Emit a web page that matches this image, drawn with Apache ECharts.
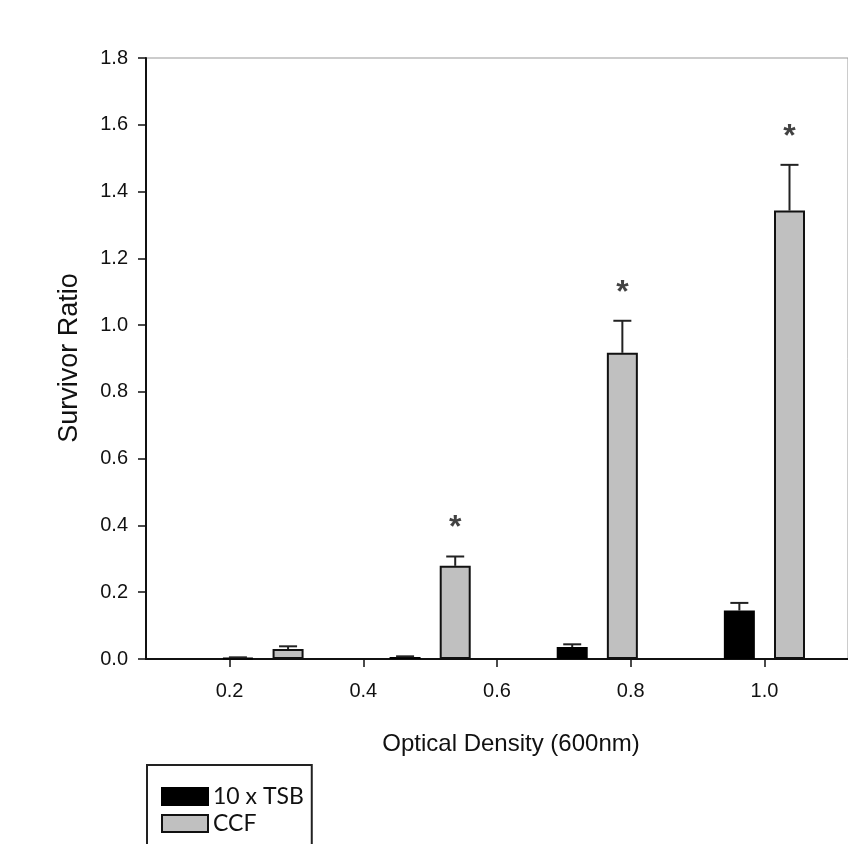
<!DOCTYPE html>
<html>
<head>
<meta charset="utf-8">
<script src="https://cdn.jsdelivr.net/npm/echarts@6/dist/echarts.min.js"></script>
<style>
html,body{margin:0;padding:0;background:#fff;}
#chart{width:848px;height:844px;}
</style>
</head>
<body>
<div id="chart"></div>
<script>
// ---- data ----
const odTicks = [0.2, 0.4, 0.6, 0.8, 1.0];
const yTicksMax = 1.8;
const seriesNames = ['10 x TSB', 'CCF'];
const tsbOD = [0.2125, 0.4625, 0.7125, 0.9625];
const tsbMean = [0.003, 0.006, 0.036, 0.145];
const tsbErr = [0.002, 0.002, 0.008, 0.023];
const ccfOD = [0.2875, 0.5375, 0.7875, 1.0375];
const ccfMean = [0.030, 0.279, 0.917, 1.343];
const ccfErr = [0.008, 0.028, 0.096, 0.137];
const ccfSignificant = [false, true, true, true];

const FONT = 'Liberation Sans, Arial, sans-serif';
const chart = echarts.init(document.getElementById('chart'), null, {renderer: 'canvas'});

const tsbData = tsbOD.map((x, i) => [x, tsbMean[i]]);
const ccfData = ccfOD.map((x, i) => [x, ccfMean[i]]);
const errData = tsbOD.map((x, i) => [x, tsbMean[i], tsbMean[i] + tsbErr[i]])
  .concat(ccfOD.map((x, i) => [x, ccfMean[i], ccfMean[i] + ccfErr[i]]));
const starData = ccfOD.map((x, i) => [x, ccfMean[i] + ccfErr[i], ccfSignificant[i]])
  .filter(d => d[2]).map(d => [d[0], d[1]]);

const option = {
  animation: false,
  backgroundColor: '#fff',
  grid: {left: 146, top: 58, width: 704, height: 601, show: true, borderColor: '#999', borderWidth: 1, containLabel: false},
  xAxis: {
    type: 'value', min: 0.075, max: 1.125,
    splitLine: {show: false},
    axisLine: {show: true, onZero: false, lineStyle: {color: '#111', width: 2}},
    axisTick: {show: true, length: 8, customValues: odTicks, lineStyle: {color: '#111', width: 1.5}},
    axisLabel: {customValues: odTicks, formatter: v => v.toFixed(1), fontFamily: FONT, fontSize: 20, color: '#111', margin: 22}
  },
  yAxis: {
    type: 'value', min: 0, max: yTicksMax, interval: 0.2,
    splitLine: {show: false},
    axisLine: {show: true, lineStyle: {color: '#111', width: 2}},
    axisTick: {show: true, length: 8, lineStyle: {color: '#111', width: 1.5}},
    axisLabel: {formatter: v => v.toFixed(1), fontFamily: FONT, fontSize: 20, color: '#111', margin: 18}
  },
  legend: {
    data: seriesNames,
    orient: 'vertical', left: 147, top: 765, height: 300,
    itemWidth: 46, itemHeight: 17, itemGap: 4,
    padding: [20, 8, 40, 14],
    borderColor: '#222', borderWidth: 2, borderRadius: 0,
    icon: 'rect',
    textStyle: {fontFamily: 'Lato, Carlito, sans-serif', fontSize: 23, color: '#111'}
  },
  graphic: [
    {type: 'text', x: 70, y: 358, rotation: Math.PI / 2,
     style: {text: 'Survivor Ratio', font: '27px ' + FONT, fill: '#111', textAlign: 'center', textVerticalAlign: 'middle'}},
    {type: 'text', x: 511, y: 744,
     style: {text: 'Optical Density (600nm)', font: '24px ' + FONT, fill: '#111', textAlign: 'center', textVerticalAlign: 'middle'}}
  ],
  series: [
    {name: seriesNames[0], type: 'bar', data: tsbData, barWidth: 31, barGap: '-100%',
     itemStyle: {color: '#000', borderColor: '#000', borderWidth: 2}},
    {name: seriesNames[1], type: 'bar', data: ccfData, barWidth: 31, barGap: '-100%',
     itemStyle: {color: '#c0c0c0', borderColor: '#111', borderWidth: 2}},
    {type: 'custom', data: errData, z: 5,
     renderItem: function (params, api) {
       const x = api.value(0);
       const p0 = api.coord([x, api.value(1)]);
       const p1 = api.coord([x, api.value(2)]);
       const st = {stroke: '#222', lineWidth: 2};
       return {type: 'group', children: [
         {type: 'line', shape: {x1: p0[0], y1: p0[1], x2: p1[0], y2: p1[1]}, style: st},
         {type: 'line', shape: {x1: p1[0] - 9, y1: p1[1], x2: p1[0] + 9, y2: p1[1]}, style: st}
       ]};
     }},
    {type: 'scatter', data: starData, symbolSize: 0, z: 6,
     label: {show: true, formatter: '*', position: 'top', distance: 12,
             fontFamily: FONT, fontSize: 32, fontWeight: 'bold', color: '#111'}}
  ]
};
chart.setOption(option);
</script>
</body>
</html>
